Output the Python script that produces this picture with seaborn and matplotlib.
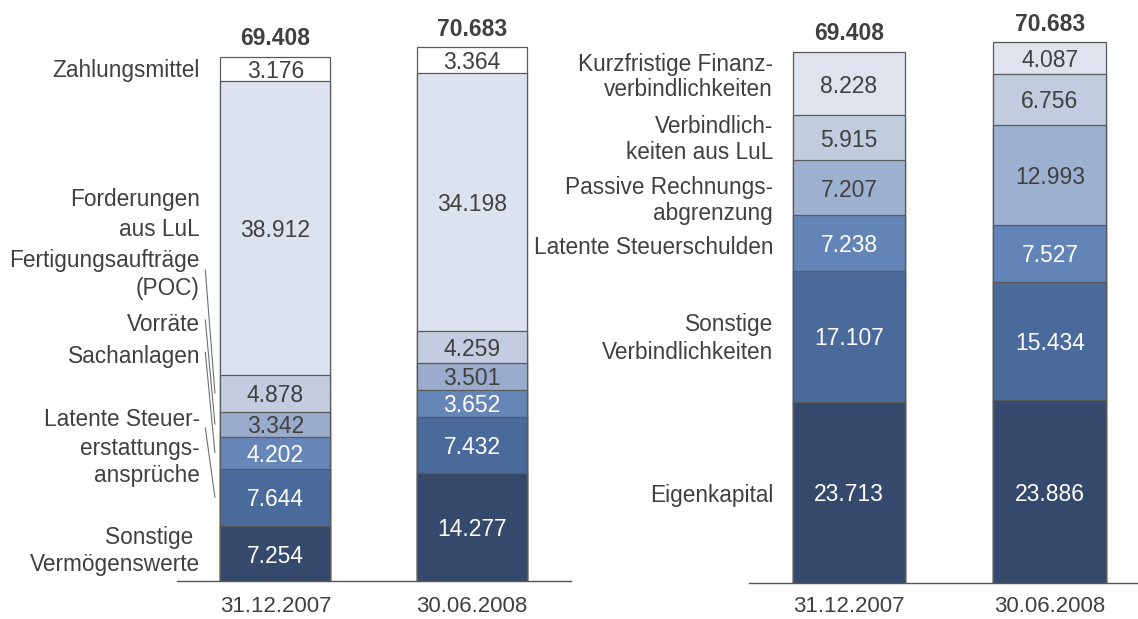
import matplotlib
matplotlib.use("Agg")
import matplotlib.pyplot as plt
import seaborn as sns
import pandas as pd
import numpy as np

sns.set_style("white")
plt.rcParams['font.family'] = ['Liberation Sans', 'DejaVu Sans']

dates = ["31.12.2007", "30.06.2008"]

# Aktiva (von unten nach oben)
aktiva_2007 = [7.254, 7.644, 4.202, 3.342, 4.878, 38.912, 3.176]
aktiva_2008 = [14.277, 7.432, 3.652, 3.501, 4.259, 34.198, 3.364]
aktiva_colors = ['#34496b', '#4a6a9b', '#6686b8', '#9aaccb', '#c4cde0', '#dde3ee', '#ffffff']
aktiva_textc = ['white', 'white', 'white', '#404040', '#404040', '#404040', '#404040']

# Passiva (von unten nach oben)
passiva_2007 = [23.713, 17.107, 7.238, 7.207, 5.915, 8.228]
passiva_2008 = [23.886, 15.434, 7.527, 12.993, 6.756, 4.087]
passiva_colors = ['#34496b', '#4a6a9b', '#6384b6', '#9cb0d0', '#c2ccdf', '#dee3ee']
passiva_textc = ['white', 'white', 'white', '#404040', '#404040', '#404040']

# Beschriftungen links neben den Balken (Text, y-Position)
aktiva_labels = [("Zahlungsmittel", 67.9), ("Forderungen", 50.9), ("aus LuL", 46.9),
                 ("Fertigungsaufträge", 42.8), ("(POC)", 39.1), ("Vorräte", 34.3),
                 ("Sachanlagen", 30.1), ("Latente Steuer-", 21.7), ("erstattungs-", 17.9),
                 ("ansprüche", 14.3), ("Sonstige ", 6.1), ("Vermögenswerte", 2.5)]
passiva_labels = [("Kurzfristige Finanz-", 68.1), ("verbindlichkeiten", 64.8),
                  ("Verbindlich-", 60.0), ("keiten aus LuL", 56.6),
                  ("Passive Rechnungs-", 52.0), ("abgrenzung", 48.6),
                  ("Latente Steuerschulden", 44.2), ("Sonstige", 34.1),
                  ("Verbindlichkeiten", 30.5), ("Eigenkapital", 11.8)]
# Hinweislinien: (Start-y, Segment-Index)
leaders = [(41.2, 4), (34.6, 3), (30.3, 2), (20.3, 1)]

TXT = '#404040'
EDGE = '#5a5a5a'

fig = plt.figure(figsize=(11.38, 6.19), dpi=100)
ax1 = fig.add_axes([177 / 1138, 38 / 619, 394 / 1138, 581 / 619])
ax2 = fig.add_axes([749 / 1138, 36 / 619, 389 / 1138, 583 / 619])


def stacked(ax, v1, v2, colors, textc, width, pad):
    cum1 = np.cumsum(v1)
    cum2 = np.cumsum(v2)
    # groesste Summe zuerst zeichnen, darueber die kleineren
    for i in range(len(v1) - 1, -1, -1):
        df = pd.DataFrame({"date": dates, "val": [cum1[i], cum2[i]]})
        sns.barplot(data=df, x="date", y="val", color=colors[i], saturation=1,
                    width=width, edgecolor=EDGE, linewidth=0.9, errorbar=None, ax=ax)
    for j, (vals, cum) in enumerate([(v1, cum1), (v2, cum2)]):
        for i, v in enumerate(vals):
            ax.text(j, cum[i] - v / 2, f"{v:.3f}", ha='center', va='center_baseline',
                    fontsize=16.5, color=textc[i])
        ax.annotate(f"{cum[-1]:.3f}", (j, cum[-1]), xytext=(0, 13), textcoords='offset points',
                    ha='center', va='center', fontsize=16.5, fontweight='bold', color=TXT)
    ax.set_xlabel("")
    ax.set_ylabel("")
    ax.set_yticks([])
    ax.tick_params(axis='x', length=0, pad=pad, labelsize=16, labelcolor=TXT)
    for s in ['top', 'left', 'right']:
        ax.spines[s].set_visible(False)
    ax.spines['bottom'].set_color('#555555')
    ax.spines['bottom'].set_linewidth(1.0)
    return cum1


cum_a = stacked(ax1, aktiva_2007, aktiva_2008, aktiva_colors, aktiva_textc, 0.56, 11)
ax1.set_xlim(-0.501, 1.504)
ax1.set_ylim(0, 581 / 7.55)
for txt, y in aktiva_labels:
    ax1.text(-0.384, y, txt, ha='right', va='center_baseline', fontsize=16.3, color=TXT)
for y0, i in leaders:
    ax1.plot([-0.357, -0.308], [y0, cum_a[i] - aktiva_2007[i] / 2], color='#707070',
             lw=0.8, clip_on=False)

stacked(ax2, passiva_2007, passiva_2008, passiva_colors, passiva_textc, 0.562, 9)
ax2.set_xlim(-0.4975, 1.438)
ax2.set_ylim(0, 583 / 7.65)
for txt, y in passiva_labels:
    ax2.text(-0.378, y, txt, ha='right', va='center_baseline', fontsize=16.3, color=TXT)

fig.savefig("out.png", dpi=100, facecolor='white')
